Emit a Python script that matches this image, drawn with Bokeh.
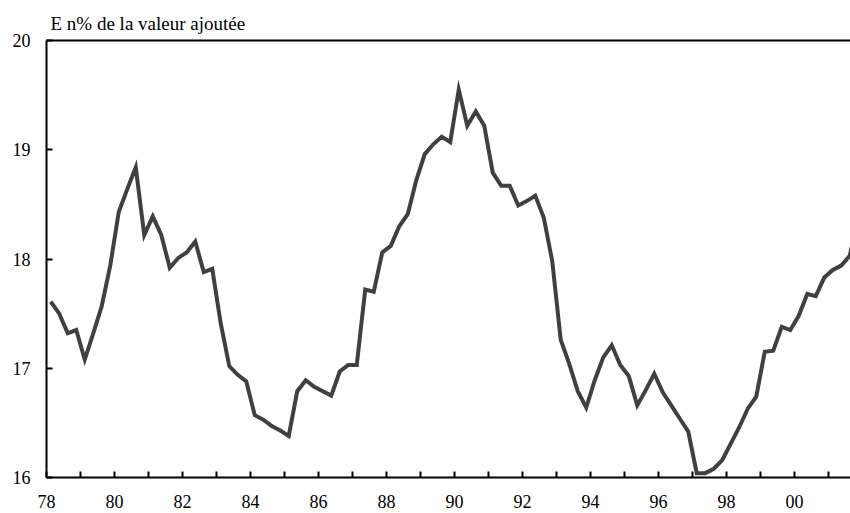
from bokeh.plotting import figure
from bokeh.models import Range1d, FixedTicker, LinearAxis
from bokeh.embed import file_html
from bokeh.resources import INLINE

# Quarterly share (% of value added), 1978Q1 .. 2001Q4
values = [
    17.61, 17.50, 17.32, 17.35, 17.08, 17.32, 17.57, 17.94,   # 78-79
    18.43, 18.64, 18.84, 18.22, 18.39, 18.22, 17.92, 18.01,   # 80-81
    18.06, 18.16, 17.88, 17.91, 17.41, 17.02, 16.94, 16.88,   # 82-83
    16.57, 16.53, 16.47, 16.43, 16.38, 16.79, 16.89, 16.83,   # 84-85
    16.79, 16.75, 16.97, 17.03, 17.03, 17.72, 17.70, 18.06,   # 86-87
    18.12, 18.30, 18.41, 18.72, 18.96, 19.05, 19.12, 19.07,   # 88-89
    19.55, 19.22, 19.35, 19.22, 18.79, 18.67, 18.67, 18.49,   # 90-91
    18.53, 18.58, 18.38, 17.98, 17.26, 17.04, 16.79, 16.64,   # 92-93
    16.89, 17.10, 17.21, 17.03, 16.93, 16.66, 16.80, 16.95,   # 94-95
    16.78, 16.66, 16.54, 16.42, 16.04, 16.04, 16.08, 16.16,   # 96-97
    16.31, 16.46, 16.63, 16.74, 17.15, 17.16, 17.38, 17.35,   # 98-99
    17.48, 17.68, 17.66, 17.83, 17.90, 17.94, 18.03, 18.38,   # 00-01
]
# mid-quarter positions in years (78 = 1978)
quarters = [78.125 + 0.25 * i for i in range(len(values))]

x_tick_years = list(range(78, 102))
x_tick_labels = {78: "78", 80: "80", 82: "82", 84: "84", 86: "86", 88: "88",
                 90: "90", 92: "92", 94: "94", 96: "96", 98: "98", 100: "00"}
y_ticks = [16, 17, 18, 19, 20]
title_text = "E n% de la valeur ajoutée"

FONT = "Liberation Serif"

p = figure(width=850, height=513, output_backend="svg", toolbar_location=None,
           x_range=Range1d(78, 78 + 804 / 34), y_range=Range1d(16, 20),
           min_border_left=46, min_border_right=0, min_border_top=40,
           min_border_bottom=36)
p.outline_line_color = None
p.background_fill_color = "white"
p.border_fill_color = "white"
p.grid.visible = False

p.line(quarters, values, line_color="#404040", line_width=4, line_join="miter")

# x axis
xa = p.xaxis[0]
xa.ticker = FixedTicker(ticks=x_tick_years)
xa.major_label_overrides = {t: x_tick_labels.get(t, "") for t in x_tick_years}
xa.minor_tick_line_color = None
xa.major_tick_in = 6
xa.major_tick_out = 0
xa.major_tick_line_width = 2
xa.major_tick_line_color = "black"
xa.axis_line_width = 2
xa.axis_line_color = "black"
xa.major_label_text_font = FONT
xa.major_label_text_font_size = "18px"
xa.major_label_text_color = "black"
xa.major_label_standoff = 17

# y axis
ya = p.yaxis[0]
ya.ticker = FixedTicker(ticks=y_ticks)
ya.minor_tick_line_color = None
ya.major_tick_in = 6
ya.major_tick_out = 0
ya.major_tick_line_width = 2
ya.major_tick_line_color = "black"
ya.axis_line_width = 2
ya.axis_line_color = "black"
ya.major_label_text_font = FONT
ya.major_label_text_font_size = "18px"
ya.major_label_text_color = "black"
ya.major_label_standoff = 16

# top frame line
top = LinearAxis(ticker=FixedTicker(ticks=[]), axis_line_width=2, axis_line_color="black",
                 major_tick_line_color=None, minor_tick_line_color=None,
                 major_label_text_font_size="0px")
p.add_layout(top, "above")

p.title.text = title_text
p.title.align = "left"
p.title.offset = 4
p.title.text_font = FONT
p.title.text_font_size = "19px"
p.title.text_font_style = "normal"
p.title.text_color = "black"
p.title.standoff = 13

open("out.html", "w").write(file_html(p, INLINE))
